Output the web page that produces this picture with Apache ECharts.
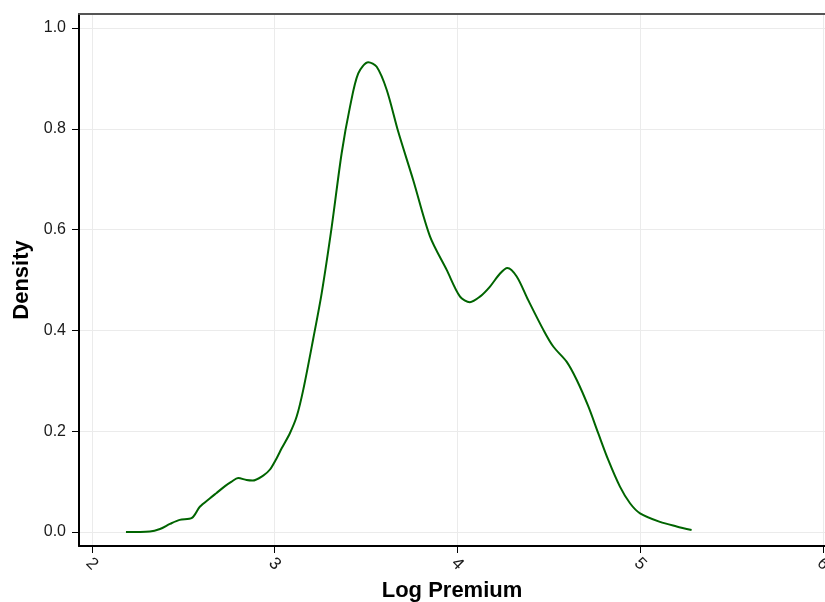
<!DOCTYPE html>
<html>
<head>
<meta charset="utf-8">
<script src="https://cdn.jsdelivr.net/npm/echarts@6/dist/echarts.min.js"></script>
<style>
  html, body { margin: 0; padding: 0; background: #fff; }
  #chart { width: 825px; height: 602px; }
</style>
</head>
<body>
<div id="chart"></div>
<script>
// density curve of log premium
const logPremium = [2.186, 2.317, 2.372, 2.427, 2.48, 2.547, 2.59, 2.646, 2.68, 2.728, 2.764, 2.80, 2.846, 2.879,
    2.937, 2.974, 3.01, 3.038, 3.083, 3.12, 3.156, 3.211, 3.257, 3.312, 3.366, 3.412, 3.457, 3.512, 3.558,
    3.613, 3.676, 3.758, 3.85, 3.941, 4.014, 4.068, 4.123, 4.178, 4.233, 4.273, 4.324, 4.387, 4.47, 4.524,
    4.597, 4.652, 4.716, 4.77, 4.825, 4.889, 4.944, 4.999, 5.108, 5.199, 5.281];
const density = [0.0, 0.001, 0.006, 0.016, 0.024, 0.028, 0.05, 0.067, 0.077, 0.091, 0.10, 0.107, 0.103, 0.102,
    0.112, 0.124, 0.146, 0.166, 0.196, 0.229, 0.282, 0.384, 0.474, 0.606, 0.751, 0.844, 0.91, 0.932, 0.923,
    0.877, 0.794, 0.698, 0.586, 0.52, 0.467, 0.456, 0.467, 0.487, 0.513, 0.524, 0.507, 0.460, 0.401, 0.368,
    0.338, 0.302, 0.249, 0.196, 0.143, 0.090, 0.057, 0.037, 0.020, 0.011, 0.004];
const xTicks = [2, 3, 4, 5, 6];
const yTicks = [0, 0.2, 0.4, 0.6, 0.8, 1.0];

const chart = echarts.init(document.getElementById("chart"));
const font = "Liberation Sans";
const gridLine = {show: true, lineStyle: {color: "#ebebeb", width: 1}};

chart.setOption({
    animation: false,
    textStyle: {fontFamily: font},
    grid: {left: 79, right: 0, top: 14, bottom: 56, containLabel: false, outerBoundsMode: "none"},
    xAxis: [{
        type: "value",
        min: 1.929,
        max: 6.011,
        name: "Log Premium",
        nameLocation: "middle",
        nameGap: 34,
        nameTextStyle: {fontFamily: font, fontSize: 22, fontWeight: "bold", color: "#000"},
        axisLine: {show: true, onZero: false, lineStyle: {color: "#000", width: 2}},
        axisTick: {show: true, length: 7, customValues: xTicks, lineStyle: {color: "#000", width: 1}},
        axisLabel: {
            customValues: xTicks, rotate: -45, fontSize: 17, color: "#1a1a1a", margin: 18,
            align: "center", verticalAlign: "middle",
            formatter: v => String(v)
        },
        splitLine: gridLine
    }, {
        type: "value",
        position: "top",
        min: 1.929,
        max: 6.011,
        axisLine: {show: true, onZero: false, lineStyle: {color: "#555", width: 2}},
        axisTick: {show: false},
        axisLabel: {show: false},
        splitLine: {show: false}
    }],
    yAxis: {
        type: "value",
        min: -0.0278,
        max: 1.0278,
        name: "Density",
        nameLocation: "middle",
        nameGap: 46,
        nameTextStyle: {fontFamily: font, fontSize: 22, fontWeight: "bold", color: "#000"},
        axisLine: {show: true, onZero: false, lineStyle: {color: "#000", width: 2}},
        axisTick: {show: true, length: 7, customValues: yTicks, lineStyle: {color: "#000", width: 1}},
        axisLabel: {
            customValues: yTicks, fontSize: 16, color: "#1a1a1a", margin: 13,
            formatter: v => v.toFixed(1)
        },
        splitLine: gridLine
    },
    series: [{
        type: "line",
        data: logPremium.map((x, i) => [x, density[i]]),
        showSymbol: false,
        smooth: 0.3,
        lineStyle: {color: "#006400", width: 2}
    }]
});
</script>
</body>
</html>
